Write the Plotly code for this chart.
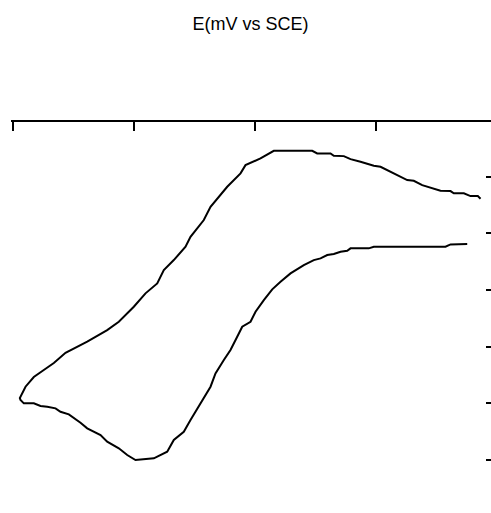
import plotly.graph_objects as go

# Potential (mV vs SCE) and current values
potential = [751.6, 724.0, 715.7, 597.2, 588.9, 558.7, 553.2, 542.2, 531.1, 520.2,
             509.1, 498.0, 481.5, 459.5, 443.0, 429.3, 415.4, 401.7, 393.4, 379.7,
             371.4, 360.3, 349.3, 335.5, 327.3, 313.6, 294.2, 283.1, 266.6, 255.7,
             233.6, 203.3, 189.6, 175.7, 156.5, 145.5, 123.5, 112.4, 93.1, 79.3,
             71.1, 57.4, 46.3, 35.2, 18.7, 13.2,
             12.1, 21.5, 35.2, 51.7, 68.3, 87.6, 123.5, 156.5, 175.7, 200.5,
             219.8, 239.2, 250.1, 266.6, 286.0, 294.2, 316.2, 327.3, 354.9, 376.9,
             385.1, 409.9, 431.9, 495.4, 503.6, 525.6, 531.1, 547.6, 558.7, 575.2,
             597.2, 608.3, 630.2, 652.4, 663.3, 677.2, 707.4, 724.0, 729.4, 746.0,
             757.0, 769.1, 773.6]
current = [18.13, 18.07, 17.65, 17.65, 17.37, 17.37, 16.94, 16.77, 16.36, 16.18,
           15.60, 15.30, 14.42, 12.95, 11.47, 10.12, 8.23, 6.17, 4.40, 3.52,
           1.75, -0.60, -2.37, -4.72, -7.08, -9.43, -12.97, -15.04, -16.50, -18.57,
           -19.74, -20.04, -19.15, -17.97, -16.80, -15.62, -14.43, -13.45, -11.96, -11.50,
           -10.90, -10.62, -10.49, -10.02, -10.02, -9.43,
           -9.08, -7.08, -5.37, -4.13, -2.90, -1.08, 0.87, 2.93, 4.40, 7.05,
           9.42, 11.18, 13.53, 15.30, 17.65, 19.42, 22.37, 24.72, 28.25, 30.62,
           32.08, 33.27, 34.61, 34.61, 34.15, 34.15, 33.73, 33.67, 33.14, 32.67,
           31.96, 31.78, 30.62, 29.43, 29.31, 28.55, 27.54, 27.49, 27.09, 27.09,
           26.61, 26.61, 26.13]

x_ticks = [0, 200, 400, 600]
y_ticks = [-20, -10, 0, 10, 20, 30]
title_text = "E(mV vs SCE)"

fig = go.Figure()
fig.add_trace(go.Scatter(x=potential, y=current, mode="lines",
                         line=dict(color="black", width=2), showlegend=False,
                         hoverinfo="skip"))

fig.update_layout(
    width=491, height=513,
    margin=dict(l=11, r=0, t=122, b=13),
    paper_bgcolor="white", plot_bgcolor="white",
    title=dict(text=title_text, x=0.51, xanchor="center", y=1 - 23.5 / 513,
               yanchor="middle", yref="container",
               font=dict(family="Liberation Sans, Arial", size=18, color="black")),
)
fig.update_xaxes(side="top", range=[-2.5, 790.9], tickvals=x_ticks, showticklabels=False,
                 ticks="inside", ticklen=9, tickwidth=2, tickcolor="black",
                 showline=True, linewidth=2, linecolor="black",
                 showgrid=False, zeroline=False)
fig.update_yaxes(side="right", anchor="free", position=0.9875,
                 range=[-27.1, 39.7], tickvals=y_ticks, showticklabels=False,
                 ticks="outside", ticklen=6, tickwidth=2, tickcolor="black",
                 showline=False, showgrid=False, zeroline=False)

fig.write_html("out.html",
               config={"displayModeBar": False},
               post_script="document.body.style.margin='0';document.body.style.overflow='hidden';")
